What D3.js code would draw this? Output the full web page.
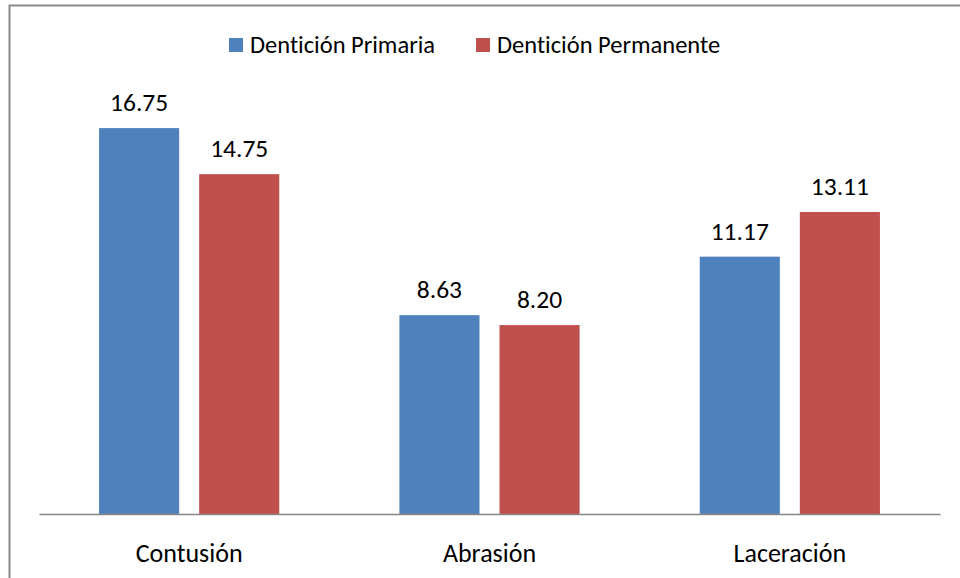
<!DOCTYPE html>
<head>
    <meta charset="utf-8">
    <title>Dentición - traumatismos</title>
    <style>
        body { margin: 0; background: #fff; }
        text { font-family: Carlito, Lato, "Open Sans", sans-serif; fill: #000; font-variant-ligatures: none; }
    </style>
</head>
<body>
<svg width="960" height="578"></svg>

<script src="https://cdnjs.cloudflare.com/ajax/libs/d3/7.8.5/d3.min.js"></script>
<script>

    // data
    var categories = ["Contusión", "Abrasión", "Laceración"];
    var series = ["Dentición Primaria", "Dentición Permanente"];
    var primaria = [16.75, 8.63, 11.17];
    var permanente = [14.75, 8.20, 13.11];
    var colors = ["#4F81BD", "#C0504D"];

    var values = [primaria, permanente];

    var svg = d3.select("svg");

    // outer frame (right and bottom edges run off the picture)
    svg.append("rect")
        .attr("x", 9.5).attr("y", 5.5)
        .attr("width", 1000).attr("height", 1000)
        .attr("fill", "none")
        .attr("stroke", "#8a8a8a")
        .attr("stroke-width", 2);

    var x0 = d3.scaleBand().domain(categories).range([39, 940]);
    var x1 = d3.scaleBand().domain(series).range([0, x0.bandwidth()])
        .paddingInner(0.2).paddingOuter(0.6);
    var y = d3.scaleLinear().domain([0, 18]).range([514, 99.3]);

    var groups = svg.selectAll(".grp")
        .data(categories)
        .enter().append("g")
        .attr("class", "grp")
        .attr("transform", function(d) { return "translate(" + x0(d) + ",0)"; });

    groups.selectAll("rect")
        .data(function(d, i) { return series.map(function(s, j) { return {s: s, j: j, v: values[j][i]}; }); })
        .enter().append("rect")
        .attr("x", function(d) { return x1(d.s); })
        .attr("y", function(d) { return y(d.v); })
        .attr("width", x1.bandwidth())
        .attr("height", function(d) { return y(0) - y(d.v); })
        .attr("fill", function(d) { return colors[d.j]; });

    groups.selectAll(".lbl")
        .data(function(d, i) { return series.map(function(s, j) { return {s: s, j: j, v: values[j][i]}; }); })
        .enter().append("text")
        .attr("class", "lbl")
        .attr("x", function(d) { return x1(d.s) + x1.bandwidth() / 2; })
        .attr("y", function(d) { return y(d.v) - 17; })
        .attr("text-anchor", "middle")
        .style("font-size", "25.5px")
        .text(function(d) { return d.v.toFixed(2); });

    // category axis
    var axis = svg.append("g")
        .attr("transform", "translate(0,514)")
        .call(d3.axisBottom(x0).tickSize(0).tickPadding(30));
    axis.select(".domain").attr("stroke", "#868686").attr("stroke-width", 1.5);
    axis.selectAll(".tick text")
        .style("font-size", "26px")
        .style("font-family", "Carlito, Lato, 'Open Sans', sans-serif")
        .attr("fill", "#000");

    // legend
    var legX = [229, 476];
    var legend = svg.selectAll(".leg")
        .data(series)
        .enter().append("g")
        .attr("class", "leg")
        .attr("transform", function(d, i) { return "translate(" + legX[i] + ",38)"; });
    legend.append("rect")
        .attr("width", 14).attr("height", 14)
        .attr("fill", function(d, i) { return colors[i]; });
    legend.append("text")
        .attr("x", 21).attr("y", 15)
        .style("font-size", "24.5px")
        .text(function(d) { return d; });

</script>
</body>
